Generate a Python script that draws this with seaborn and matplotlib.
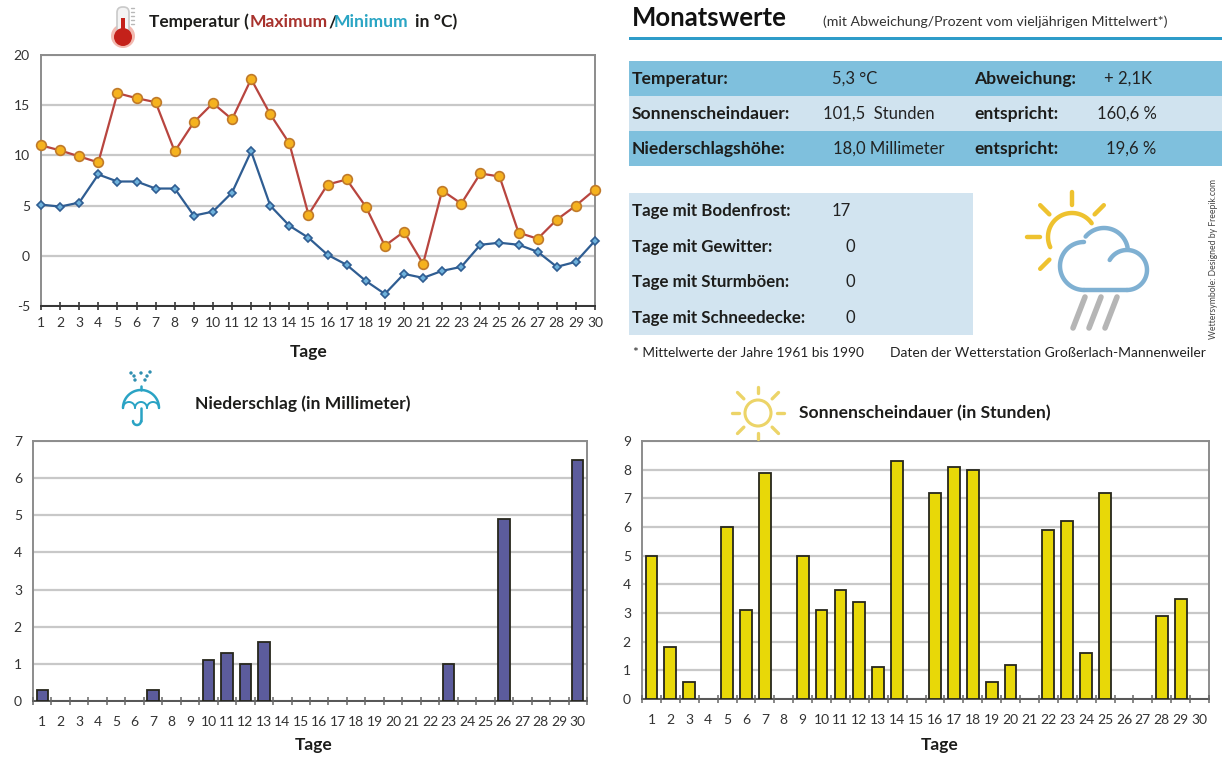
import numpy as np
import pandas as pd
import matplotlib
matplotlib.use("Agg")
import matplotlib.pyplot as plt
from matplotlib.patches import Rectangle, Circle, FancyBboxPatch
import seaborn as sns

# values
days = list(range(1, 31))
temp_max = [11.0, 10.5, 9.9, 9.3, 16.2, 15.7, 15.3, 10.4, 13.3, 15.2, 13.6, 17.6, 14.1, 11.2, 4.1,
            7.1, 7.6, 4.9, 1.0, 2.4, -0.8, 6.5, 5.2, 8.2, 7.9, 2.3, 1.7, 3.6, 5.0, 6.6]
temp_min = [5.1, 4.9, 5.3, 8.1, 7.4, 7.4, 6.7, 6.7, 4.0, 4.4, 6.3, 10.4, 5.0, 3.0, 1.8,
            0.1, -0.9, -2.5, -3.8, -1.8, -2.2, -1.5, -1.1, 1.1, 1.3, 1.1, 0.4, -1.1, -0.6, 1.5]
rain = [0.3, 0, 0, 0, 0, 0, 0.3, 0, 0, 1.1, 1.3, 1.0, 1.6, 0, 0,
        0, 0, 0, 0, 0, 0, 0, 1.0, 0, 0, 4.9, 0, 0, 0, 6.5]
sun = [5.0, 1.8, 0.6, 0, 6.0, 3.1, 7.9, 0, 5.0, 3.1, 3.8, 3.4, 1.1, 8.3, 0,
       7.2, 8.1, 8.0, 0.6, 1.2, 0, 5.9, 6.2, 1.6, 7.2, 0, 0, 2.9, 3.5, 0]

summary_rows = [("Temperatur:", "5,3 °C", "Abweichung:", "+ 2,1K"),
                ("Sonnenscheindauer:", "101,5  Stunden", "entspricht:", "160,6 %"),
                ("Niederschlagshöhe:", "18,0 Millimeter", "entspricht:", "19,6 %")]
day_counts = [("Tage mit Bodenfrost:", "17"), ("Tage mit Gewitter:", "0"),
              ("Tage mit Sturmböen:", "0"), ("Tage mit Schneedecke:", "0")]

W, H = 1231, 760
TXT = "#1d1d1b"
GRID = "#c8c8c8"

sns.set_theme(style="white")
plt.rcParams["font.family"] = ["Lato", "DejaVu Sans"]
plt.rcParams["axes.unicode_minus"] = False

fig = plt.figure(figsize=(W / 100, H / 100), dpi=100, facecolor="white")


def make_axes(left, right, top, bottom):
    return fig.add_axes([left / W, 1 - bottom / H, (right - left) / W, (bottom - top) / H])


def style_axes(ax, yticks, xlabel_at, labelpad):
    ax.set_yticks(yticks)
    ax.set_ylim(yticks[0], yticks[-1])
    ax.set_xlabel("Tage", fontsize=12.5, fontweight="bold", color=TXT, labelpad=labelpad, x=xlabel_at)
    ax.set_ylabel("")
    ax.yaxis.grid(True, color=GRID, lw=1.6)
    ax.xaxis.grid(False)
    ax.set_axisbelow(True)
    ax.tick_params(axis="y", length=3, width=1, color="#555555", labelsize=10, labelcolor="#333333", pad=5)
    for side in ["top", "right", "left"]:
        ax.spines[side].set_color("#8c8c8c")
        ax.spines[side].set_linewidth(1.4)
    ax.spines["bottom"].set_color("#555555")
    ax.spines["bottom"].set_linewidth(1.4)


# temperature chart
ax1 = make_axes(41, 595, 55, 306)
temps = pd.DataFrame({"Tag": days, "Maximum": temp_max, "Minimum": temp_min})
sns.lineplot(data=temps, x="Tag", y="Maximum", ax=ax1, color="#b8453f", lw=1.6, marker="o", ms=7,
             mfc="#f5b21e", mec="#c07a2a", mew=1.2, clip_on=False, zorder=4)
sns.lineplot(data=temps, x="Tag", y="Minimum", ax=ax1, color="#2f5d92", lw=1.6, marker="D", ms=4.5,
             mfc="#6fb2dc", mec="#2f5d92", mew=1.2, clip_on=False, zorder=4)
style_axes(ax1, [-5, 0, 5, 10, 15, 20], 0.483, 10.5)
ax1.set_xlim(1, 30)
ax1.set_xticks(days)
ax1.tick_params(axis="x", direction="inout", length=6, width=1.2, color="#333333", labelsize=10,
                labelcolor="#333333", pad=5, bottom=True)
ax1.spines["bottom"].set_color("#333333")


def bar_panel(left, right, top, bottom, values, color, yticks, xlabel_at, labelpad):
    ax = make_axes(left, right, top, bottom)
    frame = pd.DataFrame({"Tag": [str(d) for d in days], "Wert": values})
    sns.barplot(data=frame, x="Tag", y="Wert", ax=ax, color=color, saturation=1, width=0.62,
                edgecolor="#26261c", linewidth=1.3, zorder=3)
    # empty days should not leave a dark dash on the axis
    for bar in ax.patches:
        if bar.get_height() == 0:
            bar.set_visible(False)
    style_axes(ax, yticks, xlabel_at, labelpad)
    # day labels in the middle, notches between the days
    ax.set_xticks(np.arange(-0.5, 30, 1), labels=[""] * 31)
    ax.set_xticks(np.arange(30), labels=[str(d) for d in days], minor=True)
    ax.tick_params(axis="x", which="major", bottom=False, length=6)
    ax.tick_params(axis="x", which="minor", bottom=False, labelsize=10, labelcolor="#333333", pad=7)
    ax.vlines(np.arange(-0.5, 30, 1), -0.014, 0.014, transform=ax.get_xaxis_transform(),
              colors="#666666", lw=1.1, clip_on=False, zorder=4)
    ax.set_xlim(-0.5, 29.5)
    return ax


ax2 = bar_panel(33, 587, 441, 701, rain, "#5c5c9c", list(range(8)), 0.507, 6.5)
ax3 = bar_panel(642, 1209, 441, 699, sun, "#e8d808", list(range(10)), 0.525, 8)

# overlay in picture pixels for the text panel and the icons
ov = fig.add_axes([0, 0, 1, 1], zorder=-1)
ov.set_xlim(0, W)
ov.set_ylim(H, 0)
ov.axis("off")
top = fig.add_axes([0, 0, 1, 1], zorder=5)
top.set_xlim(0, W)
top.set_ylim(H, 0)
top.axis("off")
top.patch.set_alpha(0)


def label(x, y, s, size=12.6, weight="bold", color=TXT, ha="left", **kw):
    return top.text(x, y + 1, s, fontsize=size, fontweight=weight, color=color, ha=ha, va="center", **kw)


def arc(cx, cy, r, a0, a1, color, lw):
    t = np.radians(np.linspace(a0, a1, 60))
    top.plot(cx + r * np.cos(t), cy - r * np.sin(t), color=color, lw=lw, solid_capstyle="round")


def rays(cx, cy, r0, r1, angles, color, lw):
    for a in angles:
        t = np.radians(a)
        top.plot([cx + r0 * np.cos(t), cx + r1 * np.cos(t)], [cy - r0 * np.sin(t), cy - r1 * np.sin(t)],
                 color=color, lw=lw, solid_capstyle="round")


# panel titles
label(149, 21, "Temperatur (", size=12.4)
label(250, 21, "Maximum", color="#a8322d")
label(328, 21, "/", color="#1d1d1b")
label(334, 21, "Minimum", color="#2aa5c4")
label(415, 21, "in °C)")
label(195, 403, "Niederschlag (in Millimeter)")
label(799, 412, "Sonnenscheindauer (in Stunden)")

# monthly values
label(632, 17, "Monatswerte", size=18.5, color="#111111")
label(823, 21, "(mit Abweichung/Prozent vom vieljährigen Mittelwert*)", size=10.2, weight="normal", color="#333333")
top.add_patch(Rectangle((629, 36.5), 593, 3, color="#2f9cc9", lw=0))

row_y = [78, 113, 148]
for i, (y, row) in enumerate(zip(row_y, summary_rows)):
    ov.add_patch(Rectangle((629, y - 17), 593, 35, color="#7fc0dd" if i != 1 else "#d0e3ef", lw=0))
    label(632, y, row[0])
    label(974, y, row[2])
value_x = [832, 823, 833]
second_x = [1104, 1097, 1106]
for y, row, x0, x1 in zip(row_y, summary_rows, value_x, second_x):
    label(x0, y, row[1], size=12, weight="normal", color="#222222")
    label(x1, y, row[3], size=12, weight="normal", color="#222222")

ov.add_patch(Rectangle((629, 193), 344, 142, color="#d2e4f0", lw=0))
for y, (name, val) in zip([210, 246, 281, 317], day_counts):
    label(632, y, name, size=12.2)
    label(846 if val == "0" else 832, y, val, size=12, weight="normal", color="#222222")

label(633, 352, "* Mittelwerte der Jahre 1961 bis 1990", size=9.8, weight="normal", color="#222222")
label(890, 352, "Daten der Wetterstation Großerlach-Mannenweiler", size=10, weight="normal", color="#222222")
top.text(1213, 259, "Wettersymbole: Designed by Freepik.com", fontsize=6.2, color="#444444", rotation=90,
         ha="center", va="center")

# weather icon
YEL = "#eec22f"
BLU = "#7fb0d2"
arc(1072, 237, 24, 35, 205, YEL, 3.2)
rays(1072, 237, 32, 45, [90, 45, 135, 180, 225], YEL, 3.2)
arc(1084, 266, 24, 90, 270, BLU, 3.2)
arc(1104, 252, 24, 10, 140, BLU, 3.2)
arc(1127, 270, 20, -90, 150, BLU, 3.2)
top.plot([1084, 1127], [290, 290], color=BLU, lw=3.2)
for dx in [0, 16, 32]:
    top.plot([1085 + dx, 1073 + dx], [297, 328], color="#b5b5b5", lw=4)

# thermometer
top.add_patch(Circle((123, 36), 12, color="#f2b9b0", lw=0))
top.add_patch(FancyBboxPatch((117, 7), 12, 28, boxstyle="round,pad=0,rounding_size=5.5", fc="#f4f4f4", ec="#c9c9c9", lw=1.2))
top.add_patch(Rectangle((121, 18), 4, 16, color="#c4211a", lw=0))
top.add_patch(Circle((123, 37), 9, color="#c4211a", lw=0))
for y in [8, 12, 16, 20, 24]:
    top.plot([131, 134], [y, y], color="#b8b8b8", lw=1)

# umbrella
UMB = "#2aa3c4"
arc(141, 408, 18, 0, 180, UMB, 1.8)
sx = np.linspace(123, 159, 4)
for a, b in zip(sx[:-1], sx[1:]):
    arc((a + b) / 2, 408, (b - a) / 2, 0, 180, UMB, 1.4)
top.plot([141, 141], [386, 390], color=UMB, lw=1.8)
top.plot([141, 141], [408, 421], color=UMB, lw=1.8)
arc(137, 421, 4, 180, 360, UMB, 1.8)
for x, y in [(131, 373), (141, 373), (150, 372), (135, 380), (145, 380), (134, 376), (147, 376)]:
    top.add_patch(Circle((x, y), 1.7, color="#2f8fb0", lw=0))

# small sun
SUN = "#ecd468"
top.add_patch(Circle((758, 413), 13, fc="none", ec=SUN, lw=2.2))
rays(758, 413, 20, 26, [90, 270], SUN, 2.4)
rays(758, 413, 19, 26, [0, 180], SUN, 2.4)
rays(758, 413, 20, 29, [45, 135, 225, 315], SUN, 2.4)

plt.savefig("out.png", dpi=100)
